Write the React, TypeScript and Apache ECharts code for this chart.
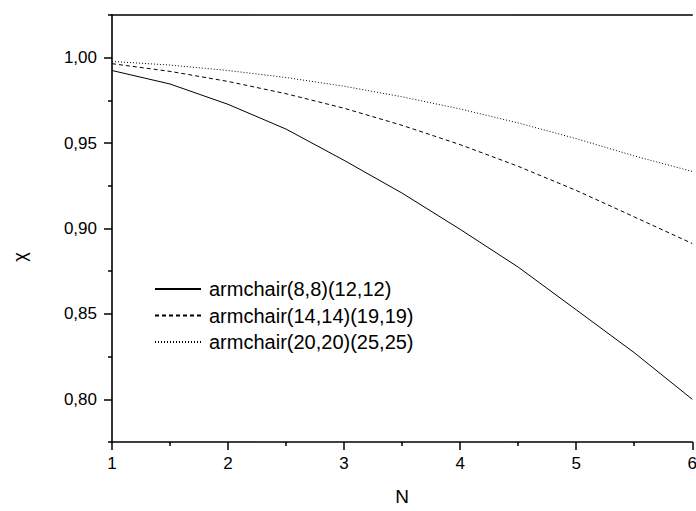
import React, { useEffect, useRef } from "react";
import * as echarts from "echarts";

const nValues = [1, 1.5, 2, 2.5, 3, 3.5, 4, 4.5, 5, 5.5, 6];
const armchair8_12 = [0.9925, 0.9846, 0.9727, 0.9582, 0.9399, 0.9207, 0.8995, 0.8774, 0.8524, 0.8273, 0.8];
const armchair14_19 = [0.9965, 0.992, 0.9861, 0.9789, 0.9704, 0.9604, 0.9491, 0.9364, 0.9223, 0.9068, 0.8912];
const armchair20_25 = [0.9978, 0.9957, 0.9925, 0.9884, 0.9833, 0.9771, 0.97, 0.9618, 0.9526, 0.9425, 0.9334];
const seriesNames = ["armchair(8,8)(12,12)", "armchair(14,14)(19,19)", "armchair(20,20)(25,25)"];
const yMajorTicks = [0.8, 0.85, 0.9, 0.95, 1.0];
const yMinorTicks = [0.775, 0.825, 0.875, 0.925, 0.975, 1.025];

const FONT = "'Liberation Sans', Arial, sans-serif";

export default function App() {
  const ref = useRef<HTMLDivElement>(null);
  useEffect(() => {
    if (!ref.current) return;
    const chart = echarts.init(ref.current, undefined, { renderer: "svg" });
    const mk = (vals: number[]) => nValues.map((n, i) => [n, vals[i]]);
    const lineTypes: any[] = ["solid", [4, 3], [1, 2]];
    const datasets = [armchair8_12, armchair14_19, armchair20_25];
    chart.setOption({
      animation: false,
      textStyle: { fontFamily: FONT },
      grid: { left: 112, right: 2, top: 15, bottom: 64, containLabel: false },
      legend: {
        orient: "vertical",
        left: 154,
        top: 279,
        padding: 0,
        itemWidth: 46,
        itemHeight: 14,
        itemGap: 6.5,
        itemStyle: { opacity: 0 },
        textStyle: { fontSize: 20, color: "#000", fontFamily: FONT, lineHeight: 20, padding: [0, 0, 0, 3] },
        data: seriesNames,
      },
      xAxis: [
        {
          type: "value",
          min: 1,
          max: 6,
          interval: 1,
          position: "bottom",
          axisLine: { show: true, lineStyle: { color: "#000", width: 1.6 } },
          axisTick: { show: true, inside: false, length: 8, lineStyle: { color: "#000", width: 1.5 } },
          minorTick: { show: true, splitNumber: 2, length: 4, lineStyle: { color: "#000", width: 1.5 } },
          splitLine: { show: false },
          minorSplitLine: { show: false },
          axisLabel: { fontSize: 17, color: "#000", margin: 13, fontFamily: FONT },
          name: "N",
          nameLocation: "middle",
          nameGap: 45,
          nameTextStyle: { fontSize: 19, color: "#000", fontFamily: FONT },
        },
        {
          type: "value",
          min: 1,
          max: 6,
          position: "top",
          axisLine: { show: true, lineStyle: { color: "#000", width: 1.6 } },
          axisTick: { show: false },
          axisLabel: { show: false },
          splitLine: { show: false },
        },
      ],
      yAxis: [
        {
          type: "value",
          min: 0.775,
          max: 1.025,
          interval: 0.025,
          position: "left",
          axisLine: { show: true, lineStyle: { color: "#000", width: 1.6 } },
          axisTick: { show: true, inside: false, length: 8, customValues: yMajorTicks, lineStyle: { color: "#000", width: 1.5 } },
          axisLabel: {
            customValues: yMajorTicks,
            fontSize: 17,
            color: "#000",
            margin: 15,
            fontFamily: FONT,
            formatter: (v: number) => v.toFixed(2).replace(".", ","),
          },
          splitLine: { show: false },
        },
        {
          type: "value",
          min: 0.775,
          max: 1.025,
          interval: 0.025,
          position: "left",
          axisLine: { show: false },
          axisTick: { show: true, inside: false, length: 4, customValues: yMinorTicks, lineStyle: { color: "#000", width: 1.5 } },
          axisLabel: { show: false },
          splitLine: { show: false },
        },
      ],
      graphic: [
        {
          type: "text",
          x: 20,
          y: 257,
          rotation: Math.PI / 2,
          style: { text: "χ", fontSize: 18, fontFamily: FONT, fill: "#000", align: "center", verticalAlign: "middle" },
        },
      ],
      series: datasets.map((vals, i) => ({
        name: seriesNames[i],
        type: "line",
        data: mk(vals),
        xAxisIndex: 0,
        yAxisIndex: 0,
        symbol: "none",
        lineStyle: { color: "#000", width: 1, type: lineTypes[i] },
        itemStyle: { color: "#000" },
      })),
    });
    return () => chart.dispose();
  }, []);
  return (
    <div style={{ position: "fixed", left: 0, top: 0, width: 696, height: 511, overflow: "hidden", background: "#fff" }}>
      <div ref={ref} style={{ width: 700, height: 511 }} />
    </div>
  );
}
